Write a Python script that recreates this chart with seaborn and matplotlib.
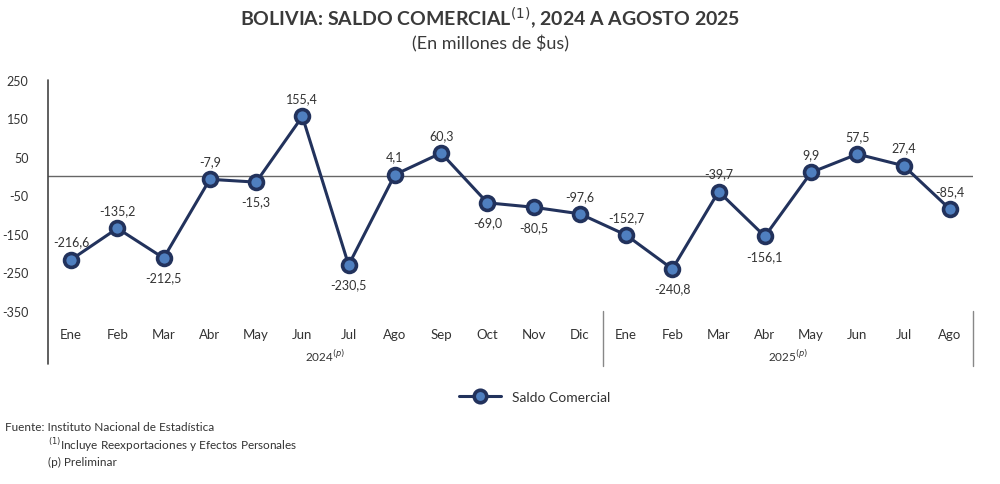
import pandas as pd
import matplotlib.pyplot as plt
import seaborn as sns

# Datos: saldo comercial mensual (millones de $us)
meses = ["Ene", "Feb", "Mar", "Abr", "May", "Jun", "Jul", "Ago", "Sep", "Oct", "Nov", "Dic",
         "Ene", "Feb", "Mar", "Abr", "May", "Jun", "Jul", "Ago"]
saldo_2024 = [-216.6, -135.2, -212.5, -7.9, -15.3, 155.4, -230.5, 4.1, 60.3, -69.0, -80.5, -97.6]
saldo_2025 = [-152.7, -240.8, -39.7, -156.1, 9.9, 57.5, 27.4, -85.4]
anios = ["2024", "2025"]
yticks = [250, 150, 50, -50, -150, -250, -350]
# etiquetas que van debajo del punto
abajo = [2, 4, 6, 9, 10, 13, 15]

saldo = saldo_2024 + saldo_2025
df = pd.DataFrame({"idx": range(len(saldo)), "mes": meses, "saldo": saldo})

sns.set_style("white")
plt.rcParams['font.family'] = ['Lato', 'DejaVu Sans']

navy = "#22325c"
azul = "#4f7fbf"
texto = "#333333"

fig = plt.figure(figsize=(10, 4.85), dpi=100)
ax = fig.add_axes([0.048, 1 - 312 / 485, 0.925, (312 - 81) / 485])

sns.lineplot(data=df, x="idx", y="saldo", ax=ax, color=navy, linewidth=2.2,
             marker="o", markersize=10, markerfacecolor=azul, markeredgecolor=navy,
             markeredgewidth=2.6, label="Saldo Comercial", legend=False)

ax.axhline(0, color="#666666", linewidth=1, zorder=0)

for i, v in enumerate(saldo):
    txt = f"{v:.1f}".replace(".", ",")
    off = -14 if i in abajo else 13
    ax.annotate(txt, (i, v), xytext=(0, off), textcoords="offset points",
                ha="center", va="center", fontsize=9, color=texto)

ax.set_xlim(-0.5, len(saldo) - 0.5)
ax.set_ylim(-350, 250)
ax.set_yticks(yticks)
ax.set_yticklabels([str(t) for t in yticks], fontsize=9, color=texto)
ax.tick_params(axis="y", direction="out", length=6, width=1, color="#444444", pad=8)
ax.set_xticks(range(len(saldo)))
ax.set_xticklabels(meses, fontsize=9.5, color=texto)
ax.tick_params(axis="x", length=0, pad=12)
ax.set_xlabel("")
ax.set_ylabel("")
for s in ["top", "right", "bottom", "left"]:
    ax.spines[s].set_visible(False)

# eje izquierdo extendido y separadores de años
tr = ax.get_xaxis_transform()
ax.plot([-0.5, -0.5], [1, -0.23], transform=tr, color="#444444", lw=1.2, clip_on=False)
for xs in [11.5, 19.5]:
    ax.plot([xs, xs], [0, -0.24], transform=tr, color="#888888", lw=1, clip_on=False)
ax.text(5.5, -0.19, anios[0] + r"$^{(p)}$", transform=tr, ha="center", va="center",
        fontsize=8.5, color=texto)
ax.text(15.5, -0.19, anios[1] + r"$^{(p)}$", transform=tr, ha="center", va="center",
        fontsize=8.5, color=texto)

fig.text(0.49, 1 - 18 / 485, r"BOLIVIA: SALDO COMERCIAL$^{(1)}$, 2024 A AGOSTO 2025",
         ha="center", va="center", fontsize=14, fontweight="bold", color="#3a3a3a")
fig.text(0.49, 1 - 44 / 485, "(En millones de \\$us)", ha="center", va="center",
         fontsize=13, color="#3a3a3a")

fig.legend(loc="center", bbox_to_anchor=(0.535, 1 - 398 / 485), frameon=False,
           fontsize=10, handlelength=3, labelcolor=texto, markerscale=0.9)

fig.text(0.005, 1 - 428 / 485, "Fuente: Instituto Nacional de Estadística",
         fontsize=8.5, color=texto, va="center")
fig.text(0.048, 1 - 445 / 485, r"$^{(1)}$Incluye Reexportaciones y Efectos Personales",
         fontsize=8.5, color=texto, va="center")
fig.text(0.048, 1 - 462 / 485, "(p) Preliminar", fontsize=8.5, color=texto, va="center")

plt.savefig("out.png", dpi=100)
